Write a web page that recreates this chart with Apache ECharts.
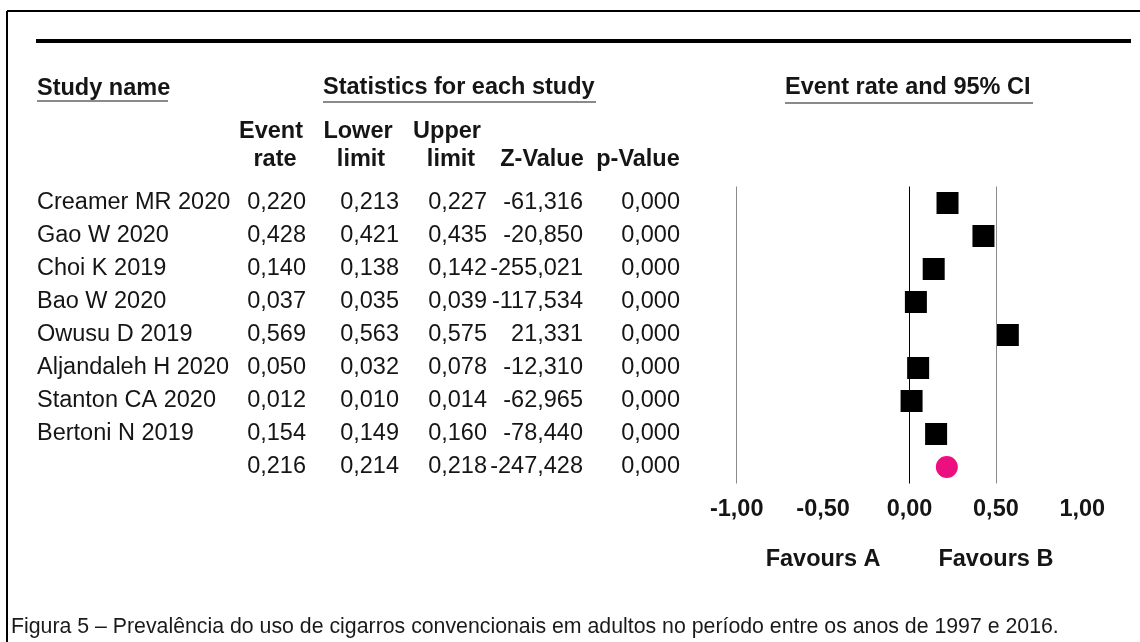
<!DOCTYPE html>
<html>
<head>
<meta charset="utf-8">
<title>Forest plot – prevalência do uso de cigarros convencionais</title>
<script src="https://cdn.jsdelivr.net/npm/echarts@6/dist/echarts.min.js"></script>
<style>
  html, body { margin: 0; padding: 0; background: #ffffff; }
  #chart { width: 1140px; height: 642px; }
</style>
</head>
<body>
<div id="chart"></div>
<script>
// ---- data ----
const studies = ['Creamer MR 2020', 'Gao W 2020', 'Choi K 2019', 'Bao W 2020', 'Owusu D 2019',
                 'Aljandaleh H 2020', 'Stanton CA 2020', 'Bertoni N 2019', ''];
const eventRate  = [0.220, 0.428, 0.140, 0.037, 0.569, 0.050, 0.012, 0.154, 0.216];
const lowerLimit = [0.213, 0.421, 0.138, 0.035, 0.563, 0.032, 0.010, 0.149, 0.214];
const upperLimit = [0.227, 0.435, 0.142, 0.039, 0.575, 0.078, 0.014, 0.160, 0.218];
const zValue     = [-61.316, -20.850, -255.021, -117.534, 21.331, -12.310, -62.965, -78.440, -247.428];
const pValue     = [0.000, 0.000, 0.000, 0.000, 0.000, 0.000, 0.000, 0.000, 0.000];
const pooledRow  = 8;   // last row holds the summary estimate
const refLines   = [-1, 0, 0.5];
const sideLabels = [{ text: 'Favours A', at: -0.5 }, { text: 'Favours B', at: 0.5 }];
const captionText = 'Figura 5 – Prevalência do uso de cigarros convencionais em adultos no período entre os anos de 1997 e 2016.';

// ---- layout ----
const FONT = '"Liberation Sans", Arial, Helvetica, sans-serif';
const FS = 23.5;
const rowTop = 186.5, rowH = 33;
const plotLeft = 736.7, plotRight = 1082.3;
const col = { name: 37, rate: 306, lower: 399, upper: 487, z: 583, p: 680 };
const ink = '#151515';
const pink = '#ec0f80';

const rowKeys = studies.map((s, i) => String(i));
const fmt = (v, d) => v.toFixed(d).replace('.', ',');

const chart = echarts.init(document.getElementById('chart'), null, { renderer: 'canvas' });

function cellText(text, x, y, align) {
  return {
    type: 'text',
    style: { text: text, x: x, y: y, align: align, verticalAlign: 'middle',
             fontFamily: FONT, fontSize: FS, fill: ink }
  };
}

const option = {
  animation: false,
  backgroundColor: '#ffffff',
  grid: [
    { left: plotLeft, right: 1140 - plotRight, top: rowTop, height: rowH * studies.length },
    { left: 0, width: 720, top: rowTop, height: rowH * studies.length }
  ],
  xAxis: [
    {
      gridIndex: 0, type: 'value', min: -1, max: 1, interval: 0.5,
      axisLine: { show: false }, axisTick: { show: false }, splitLine: { show: false },
      axisLabel: {
        margin: 14, color: ink, fontFamily: FONT, fontSize: FS, fontWeight: 'bold',
        formatter: v => fmt(v, 2)
      }
    },
    { gridIndex: 1, type: 'value', min: 0, max: 720, show: false }
  ],
  yAxis: [
    { gridIndex: 0, type: 'category', data: rowKeys, inverse: true, show: false },
    { gridIndex: 1, type: 'category', data: rowKeys, inverse: true, show: false }
  ],
  series: [
    // confidence interval whiskers
    {
      type: 'custom', xAxisIndex: 0, yAxisIndex: 0, z: 1,
      data: studies.map((s, i) => [lowerLimit[i], upperLimit[i], i]),
      encode: { x: [0, 1], y: 2 },
      renderItem: (params, api) => {
        const a = api.coord([api.value(0), api.value(2)]);
        const b = api.coord([api.value(1), api.value(2)]);
        return { type: 'line', shape: { x1: a[0], y1: a[1], x2: b[0], y2: b[1] },
                 style: { stroke: '#000', lineWidth: 1 } };
      }
    },
    // study point estimates
    {
      type: 'scatter', xAxisIndex: 0, yAxisIndex: 0, z: 3,
      symbol: 'rect', symbolSize: 22,
      itemStyle: { color: '#000', opacity: 1 },
      data: eventRate.slice(0, pooledRow).map((v, i) => [v, i]),
      markLine: {
        silent: true, symbol: ['none', 'none'], label: { show: false },
        lineStyle: { type: 'solid', width: 1 },
        data: refLines.map(v => ({ xAxis: v, lineStyle: { color: v === 0 ? '#000' : '#8a8a8a' } }))
      }
    },
    // pooled estimate
    {
      type: 'scatter', xAxisIndex: 0, yAxisIndex: 0, z: 3,
      symbol: 'circle', symbolSize: 22,
      itemStyle: { color: pink, opacity: 1 },
      data: [[eventRate[pooledRow], pooledRow]]
    },
    // statistics table
    {
      type: 'custom', xAxisIndex: 1, yAxisIndex: 1, silent: true,
      data: studies.map((s, i) => [0, i]),
      renderItem: (params, api) => {
        const i = api.value(1);
        const y = api.coord([0, i])[1];
        return {
          type: 'group',
          children: [
            cellText(studies[i], col.name, y, 'left'),
            cellText(fmt(eventRate[i], 3), col.rate, y, 'right'),
            cellText(fmt(lowerLimit[i], 3), col.lower, y, 'right'),
            cellText(fmt(upperLimit[i], 3), col.upper, y, 'right'),
            cellText(fmt(zValue[i], 3), col.z, y, 'right'),
            cellText(fmt(pValue[i], 3), col.p, y, 'right')
          ]
        };
      }
    }
  ]
};
chart.setOption(option);

// ---- frame, headings and caption ----
function boldText(text, x, y, align) {
  return { type: 'text', silent: true,
           style: { text: text, x: x, y: y, align: align || 'left', verticalAlign: 'middle',
                    fontFamily: FONT, fontSize: FS, fontWeight: 'bold', fill: ink } };
}
function rule(x1, y1, x2, y2, color, w) {
  return { type: 'line', silent: true, shape: { x1: x1, y1: y1, x2: x2, y2: y2 },
           style: { stroke: color, lineWidth: w } };
}

const tableHead = [
  ['Event', 271, 132], ['rate', 275, 160],
  ['Lower', 358, 132], ['limit', 361, 160],
  ['Upper', 447, 132], ['limit', 451, 160],
  ['Z-Value', 542, 160], ['p-Value', 638, 160]
];

const graphics = [
  rule(7, 11, 1140, 11, '#000', 2),
  rule(7, 11, 7, 642, '#000', 2),
  rule(36, 41, 1131, 41, '#000', 4),
  boldText('Study name', 37, 89),
  rule(37, 101, 168, 101, '#8a8a8a', 2),
  boldText('Statistics for each study', 323, 88),
  rule(323, 102, 596, 102, '#8a8a8a', 2),
  boldText('Event rate and 95% CI', 785, 88),
  rule(785, 103, 1033, 103, '#8a8a8a', 2)
];
tableHead.forEach(h => graphics.push(boldText(h[0], h[1], h[2], 'center')));
sideLabels.forEach(s => {
  const x = chart.convertToPixel({ xAxisIndex: 0 }, s.at);
  graphics.push(boldText(s.text, x, 560, 'center'));
});
graphics.push({ type: 'text', silent: true,
  style: { text: captionText, x: 11, y: 627, verticalAlign: 'middle',
           fontFamily: FONT, fontSize: 21.3, fill: '#1a1a1a' } });

chart.setOption({ graphic: { elements: graphics } });
</script>
</body>
</html>
